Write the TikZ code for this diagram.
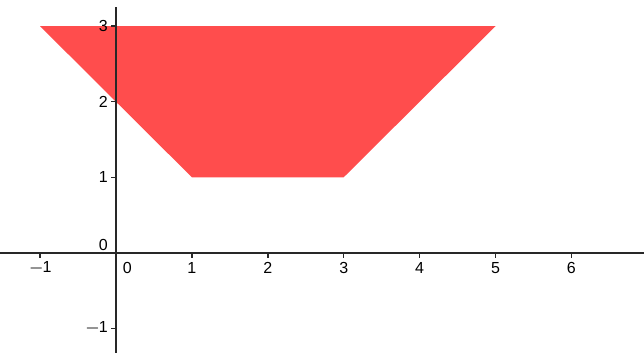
\documentclass[tikz,border=0pt]{standalone}
\usepackage{fontspec}
\setmainfont{Liberation Sans}
\definecolor{fillred}{RGB}{255,77,77}
\definecolor{axisgray}{RGB}{40,40,40}
\begin{document}
\begin{tikzpicture}[x=1cm,y=0.995cm,
  axisline/.style={draw=axisgray,line width=0.55pt},
  ticklab/.style={font=\fontsize{6}{7}\selectfont,inner sep=0pt}]
\useasboundingbox (-1.528,-1.323) rectangle (6.956,3.347);
\fill[fillred] (-1,3) -- (5,3) -- (3,1) -- (1,1) -- cycle;
\draw[axisline] (-1.528,0) -- (6.956,0);
\draw[axisline] (0,-1.323) -- (0,3.26);
\foreach \x in {-1,1,2,3,4,5,6}{
  \draw[axisline] (\x,0) -- (\x,-0.065);
  \node[ticklab] at (\x,-0.2) {\ifnum\x<0 $-$\kern-0.5pt\the\numexpr-\x\relax\else\x\fi};
}
\node[ticklab] at (0.15,-0.2) {0};
\foreach \y in {-1,1,2,3}{
  \draw[axisline] (0,\y) -- (-0.065,\y);
  \node[ticklab,anchor=east] at (-0.1,\y) {\ifnum\y<0 $-$\kern-0.5pt\the\numexpr-\y\relax\else\y\fi};
}
\node[ticklab,anchor=east] at (-0.1,0.11) {0};
\end{tikzpicture}
\end{document}
